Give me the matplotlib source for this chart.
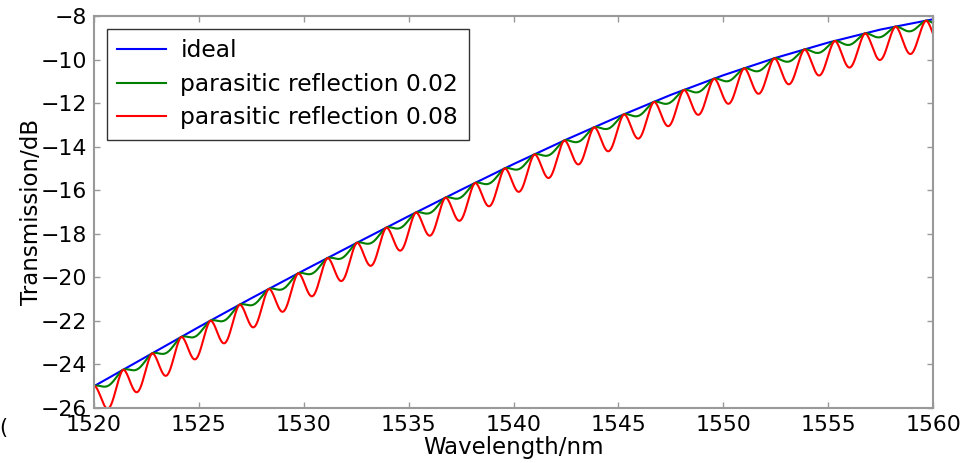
"""Transmission of a filter edge with and without parasitic reflections."""

import matplotlib
matplotlib.use('Agg')
import matplotlib.pyplot as plt
import numpy as np

# ideal transmission of the filter edge, read every 2.5 nm
ideal_nm = [1520.0, 1522.5, 1525.0, 1527.5, 1530.0, 1532.5, 1535.0, 1537.5,
            1540.0, 1542.5, 1545.0, 1547.5, 1550.0, 1552.5, 1555.0, 1557.5,
            1560.0]
ideal_db = [-25.00, -23.64, -22.28, -20.96, -19.68, -18.43, -17.19, -15.98,
            -14.80, -13.68, -12.62, -11.62, -10.72, -9.92, -9.22, -8.62,
            -8.15]

# fringes of the parasitic cavity: first and last maximum, number of periods
fringe_first_nm = 1520.0
fringe_last_nm = 1559.66
fringe_periods = 28

reflections = [0.02, 0.08]
series_labels = ['ideal', 'parasitic reflection 0.02',
                 'parasitic reflection 0.08']
series_colors = ['b', 'g', 'r']


def ripple_db(wl, r):
    """Loss added by a parasitic reflection `r`, 0 dB on every fringe maximum."""
    # the cavity period is constant in optical frequency (1/lambda)
    paso = (1 / fringe_first_nm - 1 / fringe_last_nm) / fringe_periods
    orden = (1 / fringe_first_nm - 1 / wl) / paso
    prof = 2 * r / (1 + r)
    return 20 * np.log10(1 - prof * np.abs(np.sin(np.pi * orden)) ** 1.7)


fig = plt.figure(figsize=(9.63, 4.63), dpi=100)
ax = fig.add_axes([0.0976, 0.1188, 0.8713, 0.8466])

wl = np.linspace(ideal_nm[0], ideal_nm[-1], 4001)
base = np.interp(wl, ideal_nm, ideal_db)

ax.plot(ideal_nm, ideal_db, color=series_colors[0], lw=1.5,
        label=series_labels[0])
for r, lab, col in zip(reflections, series_labels[1:], series_colors[1:]):
    ax.plot(wl, base + ripple_db(wl, r), color=col, lw=1.5, label=lab)

ax.set_xlim(1520, 1560)
ax.set_ylim(-26, -8)
ax.set_xticks(np.arange(1520, 1561, 5))
ax.set_yticks(np.arange(-26, -7, 2))

fs = 16.5
ax.set_xlabel('Wavelength/nm', fontsize=fs, labelpad=1)
ax.set_ylabel('Transmission/dB', fontsize=fs, labelpad=-2)
ax.tick_params(direction='in', length=4, width=1, color='#999999',
               top=True, right=True, labelsize=15.8, pad=5)
for sp in ax.spines.values():
    sp.set_color('#999999')
    sp.set_linewidth(1.5)

leg = ax.legend(loc='upper left', fontsize=16.8, fancybox=False,
                framealpha=1, borderaxespad=0.55, handlelength=2.1,
                handletextpad=0.6, labelspacing=0.45, borderpad=0.45)
leg.get_frame().set_edgecolor('#333333')
leg.get_frame().set_linewidth(1.0)

fig.text(-0.001, 0.055, '(', fontsize=15, ha='left', va='bottom')

fig.savefig('out.png', dpi=100)
